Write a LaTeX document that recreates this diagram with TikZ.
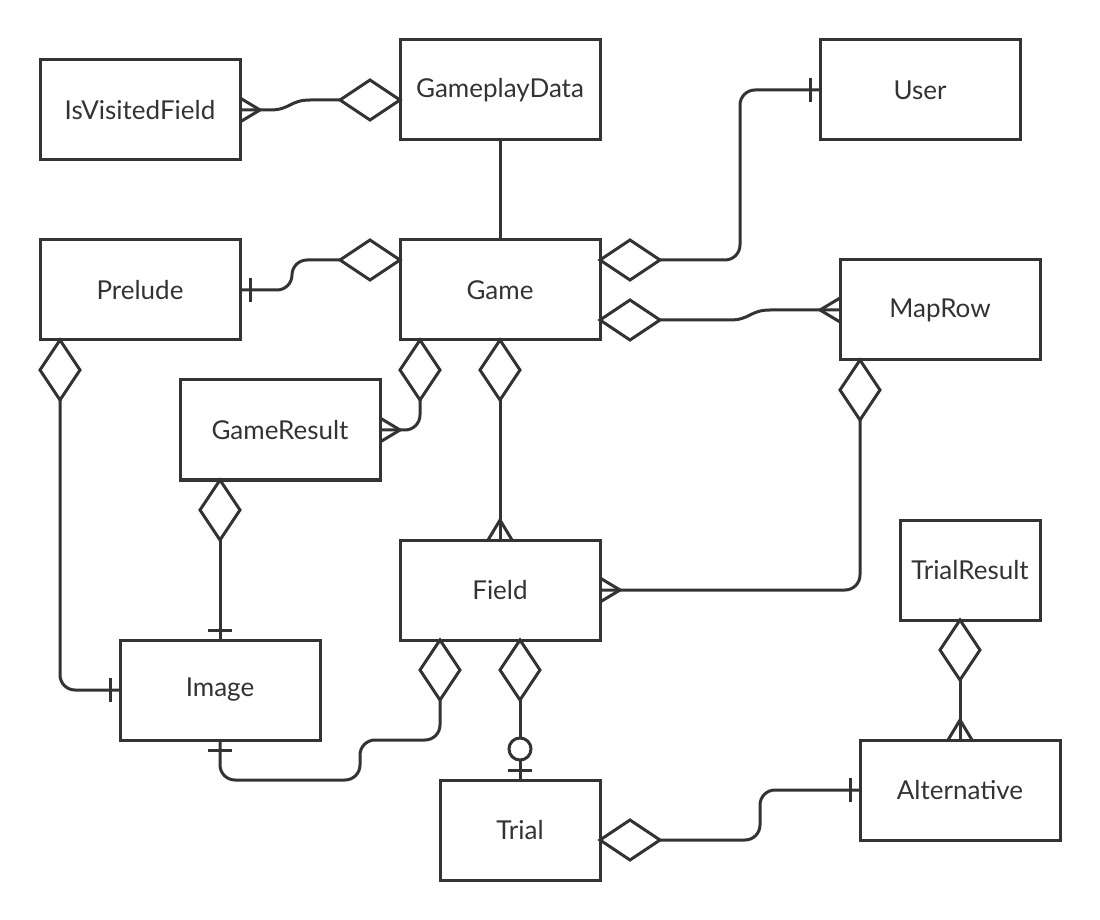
\documentclass[tikz,border=0pt]{standalone}
\usepackage{fontspec}
\setmainfont{Lato}
\usepackage{tikz}
\usetikzlibrary{calc,decorations.markings}
\definecolor{ink}{HTML}{333333}

\begin{document}
\begin{tikzpicture}[x=0.5pt,y=-0.5pt]
  \useasboundingbox (0,0) rectangle (1100,920);
  \begin{scope}[every node/.style={draw=ink,text=ink,line width=1.5pt,inner sep=0pt,outer sep=0pt,
                                   minimum width=100pt,minimum height=50pt,
                                   font=\fontsize{13pt}{15pt}\selectfont}]
    \node (visited) at (140,110) {IsVisitedField};
    \node (gpdata) at (500,90) {GameplayData};
    \node (user) at (920,90) {User};
    \node (prelude) at (140,290) {Prelude};
    \node (game) at (500,290) {Game};
    \node (maprow) at (940,310) {MapRow};
    \node (gresult) at (280,430) {GameResult};
    \node (field) at (500,590) {Field};
    \node[minimum width=70pt] (tresult) at (970,570) {TrialResult};
    \node (image) at (220,690) {Image};
    \node[minimum width=80pt] (trial) at (520,830) {Trial};
    \node (alt) at (960,790) {Alternative};
  \end{scope}

  \begin{scope}[color=ink, line width=1.5pt, rounded corners=7.5pt,
                agg/.style={postaction={decorate,decoration={markings,
                  mark=at position 0 with {\draw[fill=white,sharp corners]
                    (0,0) -- (15pt,10pt) -- (30pt,0) -- (15pt,-10pt) -- cycle;}}}},
                many/.style={postaction={decorate,decoration={markings,
                  mark=at position 1 with {\draw[sharp corners]
                    (0,6pt) -- (-10pt,0) -- (0,-6pt);}}}},
                one/.style={postaction={decorate,decoration={markings,
                  mark=at position 1 with {\draw (-5pt,6pt) -- (-5pt,-6pt);}}}},
                zeroone/.style={postaction={decorate,decoration={markings,
                  mark=at position 1 with {\draw (-5pt,6pt) -- (-5pt,-6pt);
                    \draw[fill=white] (-15.5pt,0) circle[radius=5.5pt];}}}}]
    \draw[agg,many,sharp corners] ($(gpdata.west)+(0,10)$) -- ++(-90,0) .. controls +(-20,0) and +(20,0) .. ++(-40,10) -- (visited.east);
    \draw (gpdata) -- (game);
    \draw[agg,one] ($(game.east)+(0,-30)$) -- ++(140,0) |- (user.west);
    \draw[agg,many,sharp corners] ($(game.east)+(0,30)$) -- ++(130,0) .. controls +(20,0) and +(-20,0) .. ++(40,-10) -- (maprow.west);
    \draw[agg,one] ($(game.west)+(0,-30)$) -- ++(-108,0) |- (prelude.east);
    \draw[agg,many] ($(game.south west)+(20,0)$) |- (gresult.east);
    \draw[agg,many] (game) -- (field);
    \draw[agg,many] ($(maprow.south west)+(20,0)$) |- (field.east);
    \draw[agg,one] ($(prelude.south west)+(20,0)$) |- (image.west);
    \draw[agg,one] ($(gresult.south west)+(40,0)$) -- (image.north);
    \draw[agg,one] ($(field.south west)+(40,0)$) |- ++(-80,100) |- ++(-140,40) -- (image.south);
    \draw[agg,zeroone] ($(field.south west)+(120,0)$) -- (trial.north);
    \draw[agg,one] ($(trial.east)+(0,10)$) -- ++(160,0) |- (alt.west);
    \draw[agg,many] ($(tresult.south west)+(60,0)$) -- (alt.north);
  \end{scope}
\end{tikzpicture}
\end{document}
